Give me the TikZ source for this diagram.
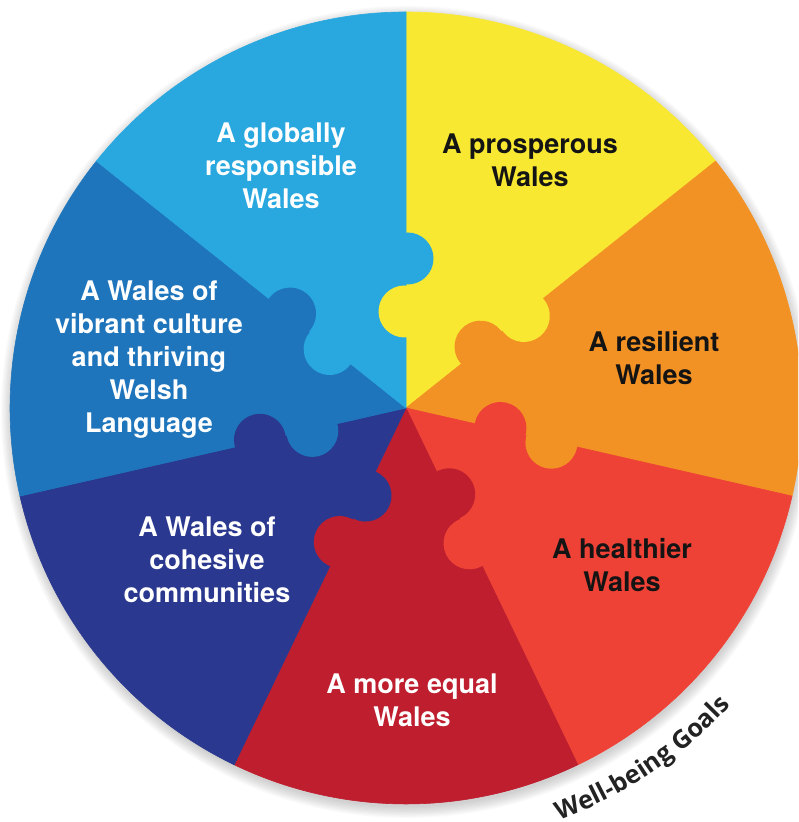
\documentclass[tikz,border=0pt]{standalone}
\usepackage{fontspec}
\setmainfont{TeX Gyre Heros}
\newfontfamily\wbfont{Open Sans}
\usetikzlibrary{decorations.text}
\definecolor{cLight}{RGB}{41,168,224}
\definecolor{cYel}{RGB}{248,232,50}
\definecolor{cOra}{RGB}{243,146,36}
\definecolor{cRed}{RGB}{238,66,54}
\definecolor{cDRed}{RGB}{190,30,46}
\definecolor{cNavy}{RGB}{42,57,143}
\definecolor{cMid}{RGB}{30,117,188}
\definecolor{cInk}{RGB}{20,20,20}
\definecolor{cWB}{RGB}{35,35,35}
\begin{document}
\begin{tikzpicture}[x=0.5pt,y=0.5pt,
  goal/.style={align=center, inner sep=0pt, font=\fontsize{13.5}{16.5}\selectfont\bfseries},
  darktext/.style={goal, text=cInk},
  lighttext/.style={goal, text=white}]
\useasboundingbox (0,0) rectangle (798,822);
\clip (0,0) rectangle (798,822);
\coordinate (C) at (406,414);
\coordinate (S) at (407,410);
% soft shadow
\foreach \i in {1,...,10}
  \fill[black, opacity=0.02] (S) circle[radius=394+\i*1.2];
% sectors
\foreach \col [count=\k from 0] in {cYel,cOra,cRed,cDRed,cNavy,cMid,cLight} {
  \pgfmathsetmacro\ta{90-(\k+1)*360/7}
  \pgfmathsetmacro\tb{90-\k*360/7}
  \filldraw[fill=\col, draw=\col, line width=0.3pt] (C) -- +(\ta:396) arc[start angle=\ta, end angle=\tb, radius=396] -- cycle;
}
% puzzle knobs
\foreach \cw/\ccw [count=\i from 0] in {cYel/cLight, cOra/cYel, cRed/cOra, cDRed/cRed, cNavy/cDRed, cMid/cNavy, cLight/cMid} {
  \begin{scope}[shift={(C)}, rotate={90-\i*360/7}]
    \fill[\cw] (96.5,1.5) circle[radius=26];
    \fill[\ccw] (149.5,-1.5) circle[radius=26];
  \end{scope}
}
% labels
\node[lighttext] (tGlobal) at (281,656) {A globally\\responsible\\Wales};
\node[darktext] (tProsp) at (530,662) {A prosperous\\Wales};
\node[darktext] (tResil) at (654,464) {A resilient\\Wales};
\node[darktext] (tHealth) at (622,257) {A healthier\\Wales};
\node[lighttext] (tEqual) at (412,122) {A more equal\\Wales};
\node[lighttext] (tCohes) at (207,262) {A Wales of\\cohesive\\communities};
\node[lighttext] (tCult) at (149,462) {A Wales of\\vibrant culture\\and thriving\\Welsh\\Language};
% curved title
\path[decorate, decoration={text along path, text align=center,
  text={|\wbfont\bfseries\fontsize{12.6}{15}\selectfont\color{cWB}|Well-being Goals}}]
  (C) ++(-80:440) arc[start angle=-80, end angle=-32, radius=440];
\end{tikzpicture}
\end{document}
